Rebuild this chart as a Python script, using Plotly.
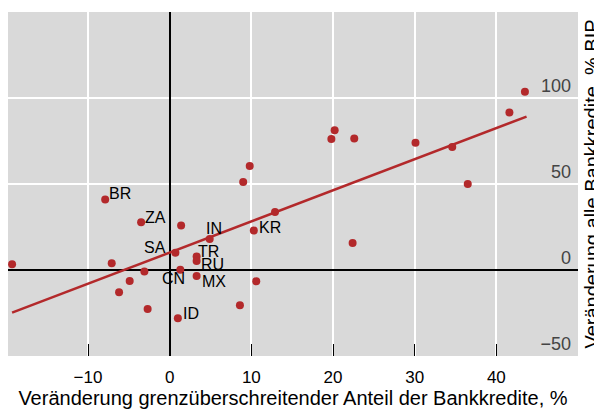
import plotly.graph_objects as go

# change in cross-border share of bank credit, %
x_vals = [-19.3, -7.9, -3.5, 1.4, 4.9, 10.3, 12.9, 0.7, 3.3, 3.3, -7.1, -3.1, 1.3, 3.3,
          -4.9, 10.6, -6.2, 8.6, -2.7, 1.0, 22.4, 9.8, 9.0, 43.5, 41.6, 20.2, 19.8,
          22.6, 30.1, 34.6, 36.5]
# change in total bank credit, % of GDP
y_vals = [3.3, 41.0, 27.7, 25.8, 18.0, 22.9, 33.7, 10.1, 7.8, 5.2, 3.9, -0.8, 0.2, -3.5,
          -6.4, -6.6, -13.0, -20.5, -22.7, -28.1, 15.7, 60.5, 51.2, 103.7, 91.5, 81.2, 76.2,
          76.4, 74.0, 71.5, 50.0]
labels = ["", "BR", "ZA", "", "IN", "KR", "", "SA", "TR", "RU", "", "", "CN", "MX",
          "", "", "", "", "", "ID", "", "", "", "", "", "", "",
          "", "", "", ""]

# regression line endpoints
fit_x = [-19.3, 43.7]
fit_y = [-24.8, 89.2]

red = '#b3292b'

# where each country code sits next to its dot (anchor, px right, px up)
label_style = {
    "BR": ("left", 3, 6), "ZA": ("left", 3, 5), "SA": ("right", -8, 5),
    "IN": ("center", 4, 11), "KR": ("left", 4, 3), "TR": ("left", 0, 5),
    "RU": ("left", 3, -3), "CN": ("right", 6, -9), "MX": ("left", 4, -5),
    "ID": ("left", 4, 5),
}

fig = go.Figure()

fig.add_trace(go.Scatter(x=fit_x, y=fit_y, mode='lines',
                         line=dict(color=red, width=2.5), hoverinfo='skip'))

fig.add_trace(go.Scatter(x=x_vals, y=y_vals, mode='markers',
                         marker=dict(color=red, size=8)))

for xv, yv, lab in zip(x_vals, y_vals, labels):
    if not lab:
        continue
    anchor, dx, dy = label_style[lab]
    fig.add_annotation(x=xv, y=yv, text=lab, showarrow=False,
                       xanchor=anchor, yanchor='middle', xshift=dx, yshift=dy,
                       borderpad=0, font=dict(size=16, color='black'))

fig.update_layout(
    width=602, height=410,
    margin=dict(l=0, r=32, t=4, b=62),
    paper_bgcolor='white', plot_bgcolor='#d9d9d9',
    showlegend=False,
    font=dict(family='Liberation Sans, Arial', size=17, color='black'),
    xaxis=dict(range=[-19.8, 50], tickvals=[-10, 0, 10, 20, 30, 40],
               ticktext=['\u221210', '0', '10', '20', '30', '40'],
               ticks='inside', ticklen=12, tickcolor='black', tickwidth=1,
               ticklabelstandoff=9,
               showgrid=True, gridcolor='white', gridwidth=1.5,
               zeroline=True, zerolinecolor='black', zerolinewidth=1.5,
               automargin=False,
               title=dict(text='Veränderung grenzüberschreitender Anteil der Bankkredite, %',
                          standoff=1)),
    yaxis=dict(range=[-50, 150], side='right', tickvals=[-50, 0, 50, 100],
               ticktext=['\u221250', '0', '50', '100'], tickfont=dict(size=18),
               ticklabelposition='inside top', ticklabelstandoff=4, ticklabelshift=0,
               showgrid=True, gridcolor='white', gridwidth=1.5,
               zeroline=True, zerolinecolor='black', zerolinewidth=1.5,
               automargin=False,
               title=dict(text='Veränderung alle Bankkredite, % BIP', standoff=14)),
)

fig.write_html("out.html")
